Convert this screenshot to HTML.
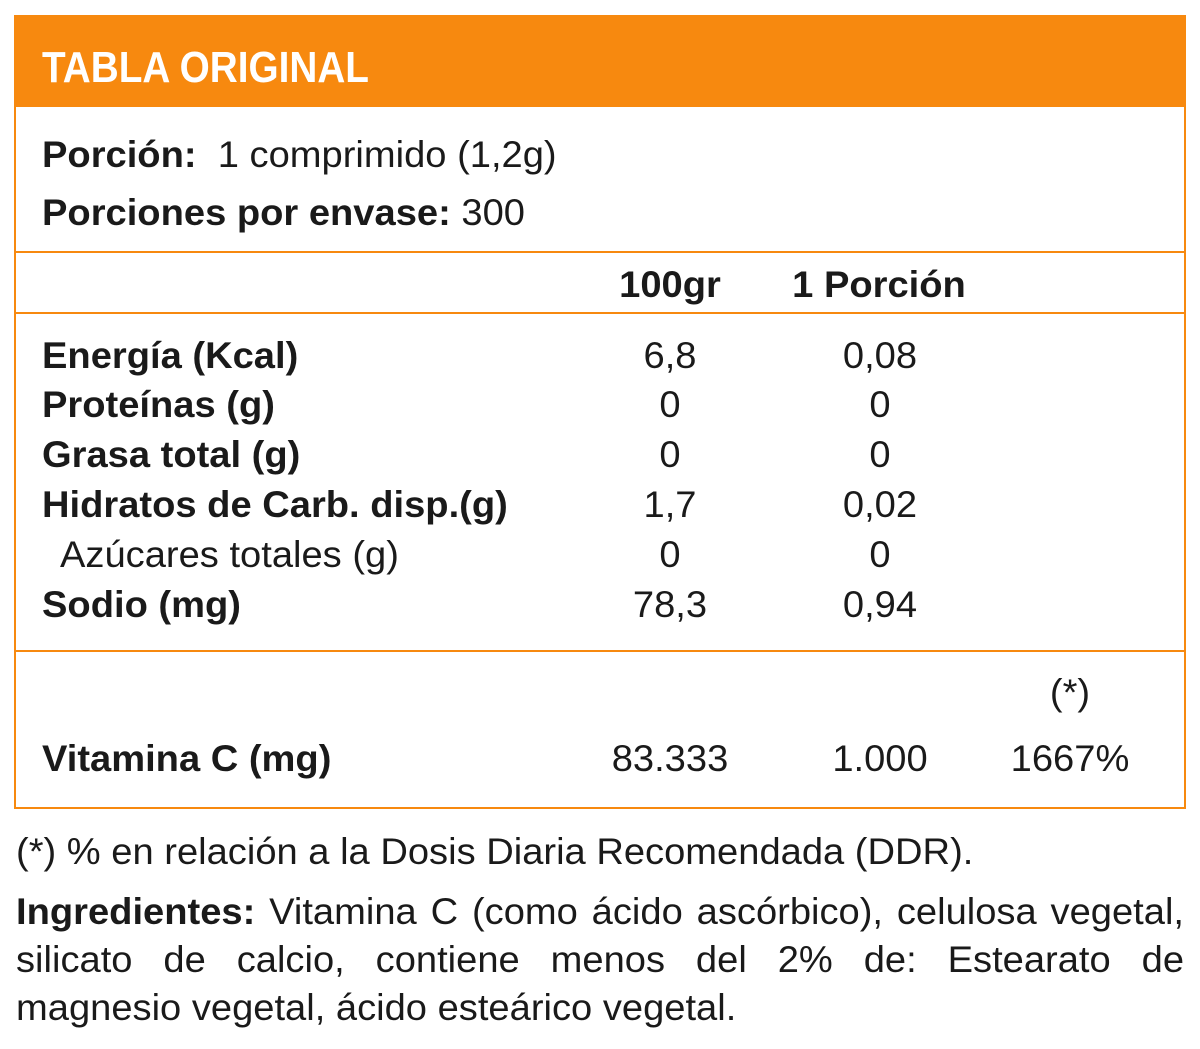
<!DOCTYPE html>
<html><head><meta charset="utf-8">
<style>
html,body{margin:0;padding:0;background:#fff;}
body{width:1200px;height:1049px;position:relative;overflow:hidden;font-family:"Liberation Sans",sans-serif;color:#1a1a1a;}
.t{position:absolute;white-space:nowrap;transform-origin:0 0;transform:scaleX(1.03);font-size:37px;line-height:1;}
.c{transform-origin:50% 0;text-align:center;width:300px;}
.b{font-weight:bold;}
.hl{position:absolute;left:14px;width:1172px;height:2px;background:#F7890F;}
.line{position:absolute;left:16px;width:1134px;font-size:37px;line-height:1;transform-origin:0 0;transform:scaleX(1.03);white-space:nowrap;}
</style></head><body>
<div style="position:absolute;left:14px;top:15px;width:1168px;height:790px;border:2px solid #F7890F;"></div>
<div style="position:absolute;left:14px;top:15px;width:1172px;height:92px;background:#F7890F;"></div>
<div class="t b" style="left:42px;top:46px;font-size:44px;color:#fff;transform:scaleX(0.88);">TABLA ORIGINAL</div>

<div class="t" style="left:42px;top:136px;"><b>Porción:</b>&nbsp; 1 comprimido (1,2g)</div>
<div class="t" style="left:42px;top:194px;"><b>Porciones por envase:</b> 300</div>
<div class="hl" style="top:251px;"></div>
<div class="t c b" style="left:520px;top:266px;">100gr</div>
<div class="t c b" style="left:729px;top:266px;">1 Porción</div>
<div class="hl" style="top:312px;"></div>

<div class="t b" style="left:42px;top:337px;">Energía (Kcal)</div>
<div class="t c" style="left:520px;top:337px;">6,8</div>
<div class="t c" style="left:730px;top:337px;">0,08</div>

<div class="t b" style="left:42px;top:386px;">Proteínas (g)</div>
<div class="t c" style="left:520px;top:386px;">0</div>
<div class="t c" style="left:730px;top:386px;">0</div>

<div class="t b" style="left:42px;top:436px;">Grasa total (g)</div>
<div class="t c" style="left:520px;top:436px;">0</div>
<div class="t c" style="left:730px;top:436px;">0</div>

<div class="t b" style="left:42px;top:486px;">Hidratos de Carb. disp.(g)</div>
<div class="t c" style="left:520px;top:486px;">1,7</div>
<div class="t c" style="left:730px;top:486px;">0,02</div>

<div class="t" style="left:60px;top:536px;">Azúcares totales (g)</div>
<div class="t c" style="left:520px;top:536px;">0</div>
<div class="t c" style="left:730px;top:536px;">0</div>

<div class="t b" style="left:42px;top:586px;">Sodio (mg)</div>
<div class="t c" style="left:520px;top:586px;">78,3</div>
<div class="t c" style="left:730px;top:586px;">0,94</div>

<div class="hl" style="top:650px;"></div>
<div class="t c" style="left:920px;top:674px;">(*)</div>
<div class="t b" style="left:42px;top:740px;">Vitamina C (mg)</div>
<div class="t c" style="left:520px;top:740px;">83.333</div>
<div class="t c" style="left:730px;top:740px;">1.000</div>
<div class="t c" style="left:920px;top:740px;">1667%</div>

<div class="t" style="left:16px;top:833px;">(*) % en relación a la Dosis Diaria Recomendada (DDR).</div>
<div>
<div class="line" style="top:893px;text-align:justify;text-align-last:justify;"><b>Ingredientes:</b> Vitamina C (como ácido ascórbico), celulosa vegetal,</div>
<div class="line" style="top:941px;text-align:justify;text-align-last:justify;">silicato de calcio, contiene menos del 2% de: Estearato de</div>
<div class="line" style="top:989px;">magnesio vegetal, ácido esteárico vegetal.</div>
</div>
</body></html>
